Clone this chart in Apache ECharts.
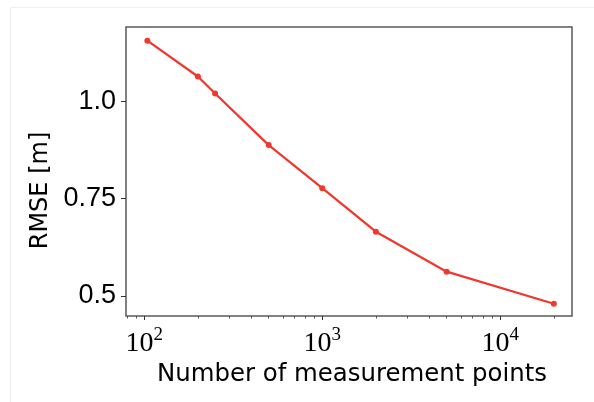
<!DOCTYPE html>
<html>
<head>
<meta charset="utf-8">
<script src="https://cdn.jsdelivr.net/npm/echarts@6/dist/echarts.min.js"></script>
<style>
  html, body { margin: 0; padding: 0; background: #fff; }
  #main { width: 594px; height: 402px; }
</style>
</head>
<body>
<div id="main"></div>
<script>
// measurement points vs RMSE
const points = [104, 200, 250, 500, 1000, 2000, 5000, 20000];
const rmse = [1.155, 1.063, 1.0195, 0.887, 0.7766, 0.665, 0.5624, 0.480];
const xMajorTicks = [100, 1000, 10000];
const xMinorTicks = [80, 90, 200, 300, 400, 500, 600, 700, 800, 900,
  2000, 3000, 4000, 5000, 6000, 7000, 8000, 9000, 20000];
const yTicks = [0.5, 0.75, 1.0];
const yTickLabels = ['0.5', '0.75', '1.0'];

const chart = echarts.init(document.getElementById('main'));
const lineColor = '#f0392e';

const option = {
  animation: false,
  graphic: [{
    type: 'rect',
    shape: { x: 10.5, y: 7.5, width: 700, height: 500 },
    style: { fill: 'none', stroke: '#efefef', lineWidth: 1 },
    silent: true
  }],
  grid: {
    left: 126, right: 22, top: 27, bottom: 86,
    show: true, borderColor: '#5a5a5a', borderWidth: 1.5
  },
  xAxis: [{
    type: 'log', min: 78.9, max: 25300,
    axisLine: { show: false },
    splitLine: { show: false },
    axisTick: { show: true, customValues: xMajorTicks, length: 4, lineStyle: { color: '#333', width: 1 } },
    axisLabel: {
      customValues: xMajorTicks,
      margin: 10,
      formatter: function (v) {
        return '{b|10}{s|' + Math.round(Math.log10(v)) + '}';
      },
      rich: {
        b: { fontFamily: 'Liberation Serif', fontSize: 28, color: '#000', lineHeight: 32, verticalAlign: 'bottom' },
        s: { fontFamily: 'Liberation Serif', fontSize: 19, color: '#000', lineHeight: 32, verticalAlign: 'top' }
      }
    },
    name: 'Number of measurement points',
    nameLocation: 'middle',
    nameGap: 45,
    nameTextStyle: { fontFamily: 'DejaVu Sans', fontSize: 24.4, color: '#000', padding: [0, 0, 0, 6] }
  }, {
    type: 'log', min: 78.9, max: 25300, position: 'bottom',
    axisLine: { show: false },
    splitLine: { show: false },
    axisLabel: { show: false },
    axisTick: { show: true, customValues: xMinorTicks, length: 2.5, lineStyle: { color: '#555', width: 1 } }
  }],
  yAxis: {
    type: 'value', min: 0.4486, max: 1.190,
    axisLine: { show: false },
    splitLine: { show: false },
    axisTick: { show: true, customValues: yTicks, length: 5, lineStyle: { color: '#333', width: 1 } },
    axisLabel: {
      customValues: yTicks,
      margin: 10,
      fontFamily: 'Liberation Sans', fontSize: 27, color: '#000',
      padding: [4, 0, 0, 0],
      formatter: function (v) {
        const i = yTicks.indexOf(v);
        return i >= 0 ? yTickLabels[i] : '';
      }
    },
    name: 'RMSE [m]',
    nameLocation: 'middle',
    nameGap: 70,
    nameRotate: 90,
    nameTextStyle: { fontFamily: 'DejaVu Sans', fontSize: 24, color: '#000', padding: [0, 38, 0, 0] }
  },
  series: [{
    type: 'line',
    xAxisIndex: 0,
    data: points.map((p, i) => [p, rmse[i]]),
    symbol: 'circle',
    symbolSize: 6,
    lineStyle: { color: lineColor, width: 2.3 },
    itemStyle: { color: lineColor }
  }]
};

chart.setOption(option);
</script>
</body>
</html>
